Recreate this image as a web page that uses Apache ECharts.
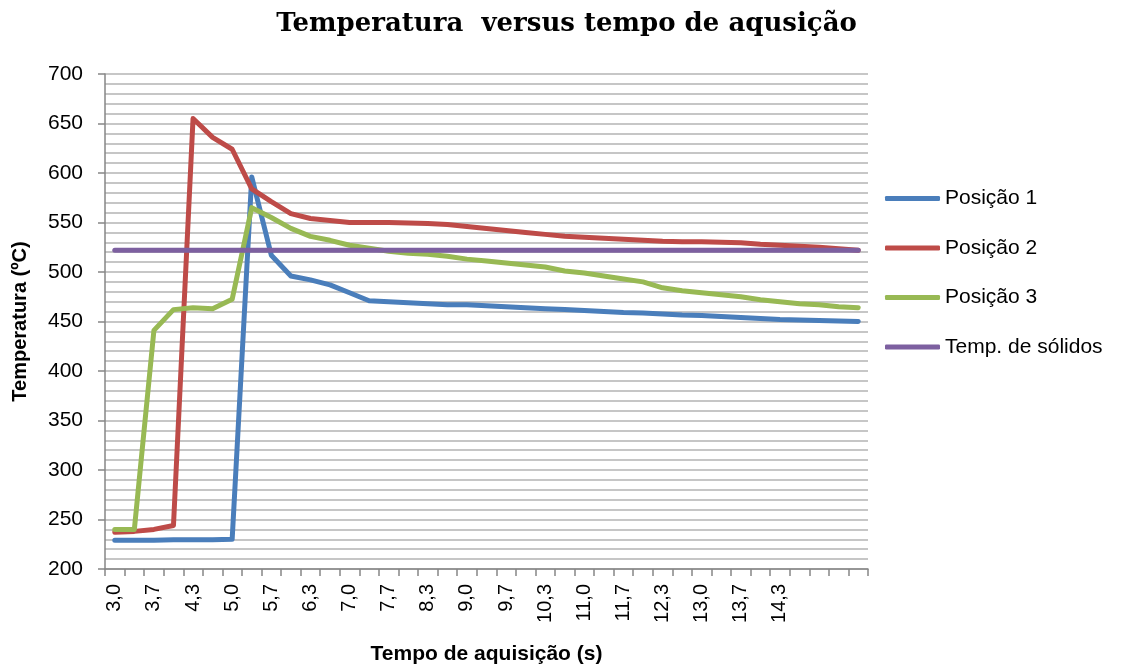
<!DOCTYPE html>
<html>
<head>
<meta charset="utf-8">
<script src="https://cdn.jsdelivr.net/npm/echarts@6/dist/echarts.min.js"></script>
<style>
  html, body { margin: 0; padding: 0; background: #fff; }
  #chart { width: 1133px; height: 670px; }
</style>
</head>
<body>
<div id="chart"></div>
<script>
// Acquisition times (s); the last readings have no time label
const times = [
  '3,0', '3,3', '3,7', '4,0', '4,3', '4,7', '5,0', '5,3', '5,7', '6,0',
  '6,3', '6,7', '7,0', '7,3', '7,7', '8,0', '8,3', '8,7', '9,0', '9,3',
  '9,7', '10,0', '10,3', '10,7', '11,0', '11,3', '11,7', '12,0', '12,3', '12,7',
  '13,0', '13,3', '13,7', '14,0', '14,3', '', '', '', ''
];

// Temperatures (ºC) at each measuring position
const posicao1 = [
  229, 229, 229, 229.5, 229.5, 229.5, 230, 596, 517, 496,
  492, 487, 479, 471, 470, 469, 468, 467, 467, 466,
  465, 464, 463, 462, 461, 460, 459, 458.5, 457.5, 456.5,
  456, 455, 454, 453, 452, 451.5, 451, 450.5, 450
];
const posicao2 = [
  237, 238, 240, 244, 655, 636, 624, 584, 571, 559,
  554, 552, 550, 550, 550, 549.5, 549, 548, 546, 544,
  542, 540, 538, 536, 535, 534, 533, 532, 531, 530.5,
  530.5, 530, 529.5, 528, 527, 526, 525, 523.5, 522
];
const posicao3 = [
  240, 240, 441, 462, 464, 463, 472.5, 565, 555, 544,
  536, 532, 527, 524, 521, 519, 518, 516, 513, 511,
  509, 507, 505, 501, 499, 496, 493, 490, 484, 481,
  479, 477, 475, 472, 470, 468, 467, 465, 464
];
// Solidus temperature, constant over the run
const tempSolidos = times.map(() => 522);

const yTicks = { min: 200, max: 700, step: 50, minorStep: 10 };

const colors = ['#4a7ebb', '#be4b48', '#98b954', '#7d60a0'];
const axisGrey = '#868686';
const gridGrey = '#b4b4b4';
const labelFont = 'Liberation Sans, Arial, sans-serif';

function lineSeries(name, data, color) {
  return {
    name: name,
    type: 'line',
    data: data,
    symbol: 'none',
    smooth: false,
    lineStyle: { color: color, width: 5, cap: 'round', join: 'round' },
    itemStyle: { color: color },
    emphasis: { disabled: true }
  };
}

const chart = echarts.init(document.getElementById('chart'), null, { renderer: 'canvas' });
chart.setOption({
  animation: false,
  backgroundColor: '#ffffff',
  color: colors,
  title: {
    text: 'Temperatura  versus tempo de aqusição',
    left: 'center',
    top: 6,
    textStyle: {
      fontFamily: 'DejaVu Serif, serif',
      fontWeight: 'bold',
      fontSize: 26,
      color: '#000'
    }
  },
  legend: {
    orient: 'vertical',
    left: 880,
    top: 183,
    itemWidth: 55,
    itemHeight: 5,
    itemGap: 28.5,
    icon: 'roundRect',
    textStyle: { fontFamily: labelFont, fontSize: 21, color: '#000', lineHeight: 21 },
    data: ['Posição 1', 'Posição 2', 'Posição 3', 'Temp. de sólidos']
  },
  grid: { left: 105, right: 265, top: 74, bottom: 101, containLabel: false },
  xAxis: {
    type: 'category',
    data: times,
    boundaryGap: true,
    name: 'Tempo de aquisição (s)',
    nameLocation: 'middle',
    nameGap: 75,
    nameTextStyle: { fontFamily: labelFont, fontWeight: 'bold', fontSize: 21, color: '#000' },
    axisLine: { lineStyle: { color: axisGrey, width: 1.5 } },
    axisTick: { show: true, interval: 0, length: 7, lineStyle: { color: axisGrey, width: 1.5 } },
    axisLabel: { interval: 1, rotate: 90, margin: 15, fontFamily: labelFont, fontSize: 20, color: '#000' },
    splitLine: { show: false }
  },
  yAxis: {
    type: 'value',
    min: yTicks.min,
    max: yTicks.max,
    interval: yTicks.step,
    name: 'Temperatura (ºC)',
    nameLocation: 'middle',
    nameGap: 75,
    nameTextStyle: { fontFamily: labelFont, fontWeight: 'bold', fontSize: 20, color: '#000' },
    axisLine: { show: true, lineStyle: { color: axisGrey, width: 1.5 } },
    axisTick: { show: true, length: 7, lineStyle: { color: axisGrey, width: 1.5 } },
    axisLabel: { margin: 22, fontFamily: labelFont, fontSize: 21, color: '#000' },
    splitLine: { show: true, lineStyle: { color: gridGrey, width: 1.5 } },
    minorTick: { show: false, splitNumber: yTicks.step / yTicks.minorStep },
    minorSplitLine: { show: true, lineStyle: { color: gridGrey, width: 1.5 } }
  },
  series: [
    lineSeries('Posição 1', posicao1, colors[0]),
    lineSeries('Posição 2', posicao2, colors[1]),
    lineSeries('Posição 3', posicao3, colors[2]),
    lineSeries('Temp. de sólidos', tempSolidos, colors[3])
  ]
});
</script>
</body>
</html>
